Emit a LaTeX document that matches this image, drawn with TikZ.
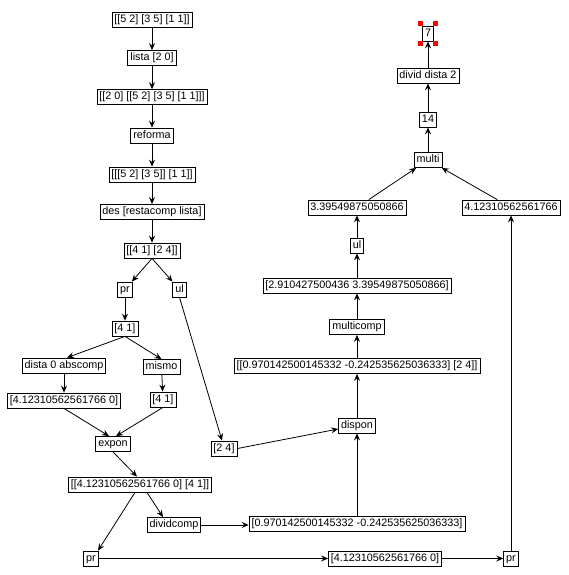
\documentclass[tikz,border=0pt]{standalone}
\usepackage{fontspec}
\setmainfont{Liberation Sans}
\usetikzlibrary{arrows.meta}
\begin{document}
\begin{tikzpicture}[x=1pt,y=-1pt,
  box/.style={draw, line width=0.8pt, inner xsep=2.5pt, inner ysep=0pt,
    minimum height=15pt, text height=8pt, text depth=2.5pt,
    font=\fontsize{10.8}{12}\selectfont},
  arr/.style={line width=0.8pt, -{Stealth[length=7pt,width=6pt,inset=2.5pt]}},
  handle/.style={fill=red, draw=none, minimum size=5pt, inner sep=0pt}]
\useasboundingbox[fill=white] (0,0) rectangle (569,575);
% left chain
\node[box] (n1) at (152,19.5) {[[5 2] [3 5] [1 1]]};
\node[box] (n2) at (152,58) {lista [2 0]};
\node[box] (n3) at (152,97) {[[2 0] [[5 2] [3 5] [1 1]]]};
\node[box] (n4) at (152,135.5) {reforma};
\node[box] (n5) at (152,174.5) {[[[5 2] [3 5]] [1 1]]};
\node[box] (n6) at (152,212) {des [restacomp lista]};
\node[box] (n7) at (152,250.5) {[[4 1] [2 4]]};
\node[box] (pr1) at (125,289.5) {pr};
\node[box] (ul1) at (179.5,289.5) {ul};
\node[box] (n10) at (125,328.5) {[4 1]};
\node[box] (dista) at (64,365.5) {dista 0 abscomp};
\node[box] (mismo) at (161.5,367) {mismo};
\node[box] (v1) at (64,400.5) {[4.12310562561766 0]};
\node[box] (v2) at (163,399.5) {[4 1]};
\node[box] (expon) at (113,444) {expon};
\node[box] (two4) at (224,448.5) {[2 4]};
\node[box] (pair) at (140,484.5) {[[4.12310562561766 0] [4 1]]};
\node[box] (divc) at (174,525) {dividcomp};
\node[box] (pr2) at (91,558.5) {pr};
\node[box] (norm) at (357,523.5) {[0.970142500145332 -0.242535625036333]};
\node[box] (vbot) at (385,558.5) {[4.12310562561766 0]};
\node[box] (pr3) at (511,558.5) {pr};
% right chain
\node[box] (dispon) at (357,425.5) {dispon};
\node[box] (nc) at (357,366) {[[0.970142500145332 -0.242535625036333] [2 4]]};
\node[box] (mc) at (357,327) {multicomp};
\node[box] (pm) at (357,285.5) {[2.910427500436 3.39549875050866]};
\node[box] (ul2) at (357,245.5) {ul};
\node[box] (v33) at (357,207.5) {3.39549875050866};
\node[box] (v41) at (511,207.5) {4.12310562561766};
\node[box] (multi) at (428,160) {multi};
\node[box] (f14) at (428,119.5) {14};
\node[box] (dd) at (428,75.5) {divid dista 2};
\node[box] (seven) at (428,33.5) {7};
% selection handles
\node[handle] (h1) at ([shift={(-2pt,2pt)}]seven.north west) {};
\node[handle] (h2) at ([shift={(2pt,2pt)}]seven.north east) {};
\node[handle] (h3) at ([shift={(-2pt,-2pt)}]seven.south west) {};
\node[handle] (h4) at ([shift={(2pt,-2pt)}]seven.south east) {};
% edges
\draw[arr] (n1) -- (n2);
\draw[arr] (n2) -- (n3);
\draw[arr] (n3) -- (n4);
\draw[arr] (n4) -- (n5);
\draw[arr] (n5) -- (n6);
\draw[arr] (n6) -- (n7);
\draw[arr] (n7.south) -- (pr1);
\draw[arr] (n7.south) -- (ul1);
\draw[arr] (pr1) -- (n10);
\draw[arr] (n10.south) -- ([xshift=3pt]dista.north);
\draw[arr] (n10.south) -- (mismo.north);
\draw[arr] (dista) -- (v1);
\draw[arr] (mismo) -- (v2);
\draw[arr] (v1.south) -- ([xshift=-4pt]expon.north);
\draw[arr] (v2.south) -- ([xshift=3pt]expon.north);
\draw[arr] (expon.south) -- ([xshift=-3pt]pair.north);
\draw[arr] ([xshift=-5pt]pair.south) -- ([xshift=7pt]pr2.north);
\draw[arr] ([xshift=7pt]pair.south) -- ([xshift=-11pt]divc.north);
\draw[arr] (ul1.south) -- ([xshift=-2pt]two4.north);
\draw[arr] (two4.east) -- ([yshift=-3.5pt]dispon.west);
\draw[arr] (divc.east) -- (divc.east -| norm.west);
\draw[arr] (norm) -- (dispon);
\draw[arr] (pr2) -- (vbot);
\draw[arr] (vbot) -- (pr3);
\draw[arr] (pr3) -- (v41);
\draw[arr] (dispon) -- (nc);
\draw[arr] (nc) -- (mc);
\draw[arr] (mc) -- (pm);
\draw[arr] (pm) -- (ul2);
\draw[arr] (ul2) -- (v33);
\draw[arr] (v33) -- (multi);
\draw[arr] (v41) -- (multi);
\draw[arr] (multi) -- (f14);
\draw[arr] (f14) -- (dd);
\draw[arr] (dd) -- (seven);
\end{tikzpicture}
\end{document}
